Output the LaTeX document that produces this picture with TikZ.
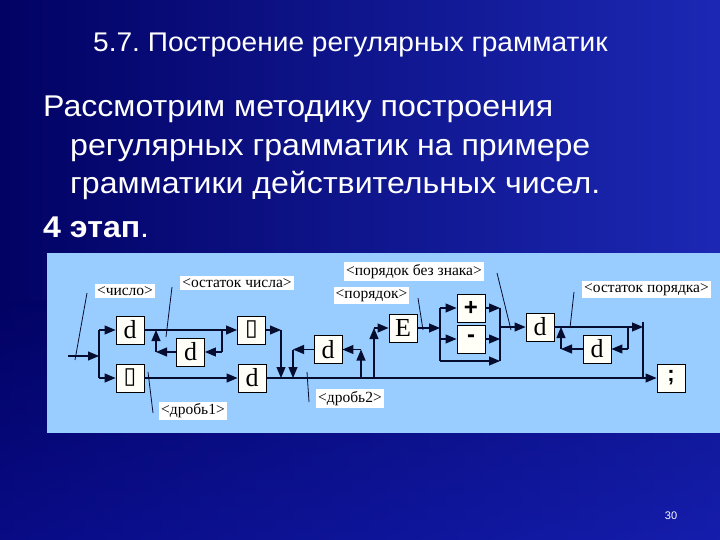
\documentclass[tikz,border=0pt]{standalone}
\usepackage{fontspec}
\setmainfont{Liberation Sans}
\newfontfamily\lserif{Liberation Serif}
\newfontfamily\dejavu{DejaVu Sans}
\usetikzlibrary{arrows.meta}
\definecolor{bgdark}{RGB}{2,2,100}
\definecolor{bgmid}{RGB}{14,20,165}
\definecolor{bglight}{RGB}{28,40,180}
\definecolor{panel}{RGB}{153,204,255}
\definecolor{boxfill}{RGB}{255,255,248}
\definecolor{linec}{RGB}{6,12,45}
\frenchspacing
\begin{document}
\begin{tikzpicture}[x=1pt,y=-1pt,
  box/.style={draw=black,line width=0.9pt,fill=boxfill,inner sep=0pt,minimum width=28pt,minimum height=28pt,font=\lserif\fontsize{26}{26}\selectfont},
  lab/.style={fill=white,inner sep=2pt,font=\lserif\fontsize{15.5}{15.5}\selectfont},
  arr/.style={draw=linec,line width=1.1pt,-{Triangle[length=11pt,width=9pt]}},
  ln/.style={draw=linec,line width=1.1pt},
  tick/.style={draw=linec,line width=0.8pt},
  ttl/.style={text=white,anchor=base west,inner sep=0pt}]
\useasboundingbox (0,0) rectangle (720,540);
\shade[left color=bgdark,right color=bglight] (0,0) rectangle (720,540);
\shade[top color=bgdark,bottom color=bgmid,opacity=0.5] (0,300) rectangle (720,540);
% texts
\node[ttl,font=\fontsize{27}{27}\selectfont] (title) at (93,52) {\scalebox{1.04}[1]{5.7. Построение регулярных грамматик}};
\node[ttl,font=\fontsize{30}{30}\selectfont] (l1) at (43,117) {\scalebox{1.07}[1]{Рассмотрим методику построения}};
\node[ttl,font=\fontsize{30}{30}\selectfont] (l2) at (70,155.5) {\scalebox{1.07}[1]{регулярных грамматик на примере}};
\node[ttl,font=\fontsize{30}{30}\selectfont] (l3) at (70,194) {\scalebox{1.07}[1]{грамматики действительных чисел.}};
\node[ttl,font=\fontsize{30}{30}\selectfont] (l4) at (43,237) {\scalebox{1.07}[1]{\textbf{4 этап}.}};
\node[text=white,font=\fontsize{11}{11}\selectfont] (pg) at (671,516) {30};
% panel
\fill[panel] (47,253) rectangle (720,433);
% boxes
\node[box] (d1) at (130,330) {d};
\node[box] (p1) at (130,378) {\dejavu\fontsize{23}{23}\selectfont ▯};
\node[box] (d2) at (190.5,352) {d};
\node[box] (p2) at (251.5,330) {\dejavu\fontsize{23}{23}\selectfont ▯};
\node[box] (d3) at (252,378) {d};
\node[box] (d4) at (328,349.5) {d};
\node[box] (E) at (403,328) {E};
\node[box,font=\bfseries\fontsize{24}{24}\selectfont] (plus) at (471,308) {+};
\node[box,font=\bfseries\fontsize{24}{24}\selectfont] (minus) at (471,339) {-};
\node[box] (d5) at (540,327) {d};
\node[box] (d6) at (597,349) {d};
\node[box,font=\bfseries\fontsize{22}{22}\selectfont] (semi) at (671,378) {;};
% coordinates
\coordinate (in) at (68,356);
\coordinate (s0) at (99,356);
\coordinate (s1) at (99,330);
\coordinate (s2) at (99,378);
\coordinate (a1) at (222,330);
\coordinate (a2) at (222,352);
\coordinate (a3) at (156,352);
\coordinate (a4) at (156,330);
\coordinate (b1) at (281,330);
\coordinate (b2) at (281,378);
\coordinate (c1) at (293,349.5);
\coordinate (c2) at (293,378);
\coordinate (c3) at (361,378);
\coordinate (c4) at (361,349.5);
\coordinate (e1) at (374,378);
\coordinate (e2) at (374,328);
\coordinate (f1) at (440,328);
\coordinate (f2) at (440,308);
\coordinate (f3) at (440,339);
\coordinate (f4) at (440,361);
\coordinate (g1) at (500,308);
\coordinate (g2) at (500,339);
\coordinate (g3) at (500,361);
\coordinate (g4) at (500,327);
\coordinate (h1) at (643,327);
\coordinate (h0) at (643,322);
\coordinate (h2) at (643,378);
\coordinate (k1) at (628,327);
\coordinate (k2) at (628,349);
\coordinate (k3) at (561,349);
\coordinate (k4) at (561,327);
% connectors
\draw[arr] (in) -- (s0);
\draw[ln] (s1) -- (s2);
\draw[arr] (s1) -- (d1);
\draw[arr] (s2) -- (p1);
\draw[arr] (d1) -- (p2);
\draw[ln] (a1) -- (a2);
\draw[arr] (a2) -- (d2);
\draw[arr] (d2) -- (a3);
\draw[arr] (a3) -- (a4);
\draw[arr] (p1) -- (d3);
\draw[arr] (p2) -- (b1);
\draw[arr] (b1) -- (b2);
\draw[arr] (d3.east) -- (semi.west);
\draw[arr] (d4) -- (c1);
\draw[arr] (c1) -- (c2);
\draw[arr] (c3) -- (c4);
\draw[arr] (c4) -- (d4);
\draw[arr] (e1) -- (e2);
\draw[arr] (e2) -- (E);
\draw[arr] (E) -- (f1);
\draw[ln] (f2) -- (f4);
\draw[arr] (f2) -- (plus);
\draw[arr] (f3) -- (minus);
\draw[arr] (f4) -- (g3);
\draw[arr] (plus) -- (g1);
\draw[arr] (minus) -- (g2);
\draw[ln] (g1) -- (g3);
\draw[arr] (g4) -- (d5);
\draw[arr] (d5) -- (h1);
\draw[ln] (h0) -- (h2);
\draw[ln] (k1) -- (k2);
\draw[arr] (k2) -- (d6);
\draw[arr] (d6) -- (k3);
\draw[arr] (k3) -- (k4);
% labels
\node[lab] (L1) at (125,291) {<число>};
\node[lab] (L2) at (237,283) {<остаток числа>};
\node[lab] (L3) at (193,411) {<дробь1>};
\node[lab] (L4) at (350,398.5) {<дробь2>};
\node[lab] (L5) at (371.5,295.5) {<порядок>};
\node[lab] (L6) at (414,271.5) {<порядок без знака>};
\node[lab] (L7) at (646.5,289.5) {<остаток порядка>};
% ticks
\coordinate (t1a) at (87,293); \coordinate (t1b) at (75,360);
\coordinate (t2a) at (172,287); \coordinate (t2b) at (166,337);
\coordinate (t3a) at (148,372); \coordinate (t3b) at (153,413);
\coordinate (t4a) at (307,372); \coordinate (t4b) at (309,402);
\coordinate (t5a) at (418,298); \coordinate (t5b) at (423,330);
\coordinate (t6a) at (497,273); \coordinate (t6b) at (511,330);
\coordinate (t7a) at (574,292); \coordinate (t7b) at (570,328);
\draw[tick] (t1a) -- (t1b);
\draw[tick] (t2a) -- (t2b);
\draw[tick] (t3a) -- (t3b);
\draw[tick] (t4a) -- (t4b);
\draw[tick] (t5a) -- (t5b);
\draw[tick] (t6a) -- (t6b);
\draw[tick] (t7a) -- (t7b);
\end{tikzpicture}
\end{document}
